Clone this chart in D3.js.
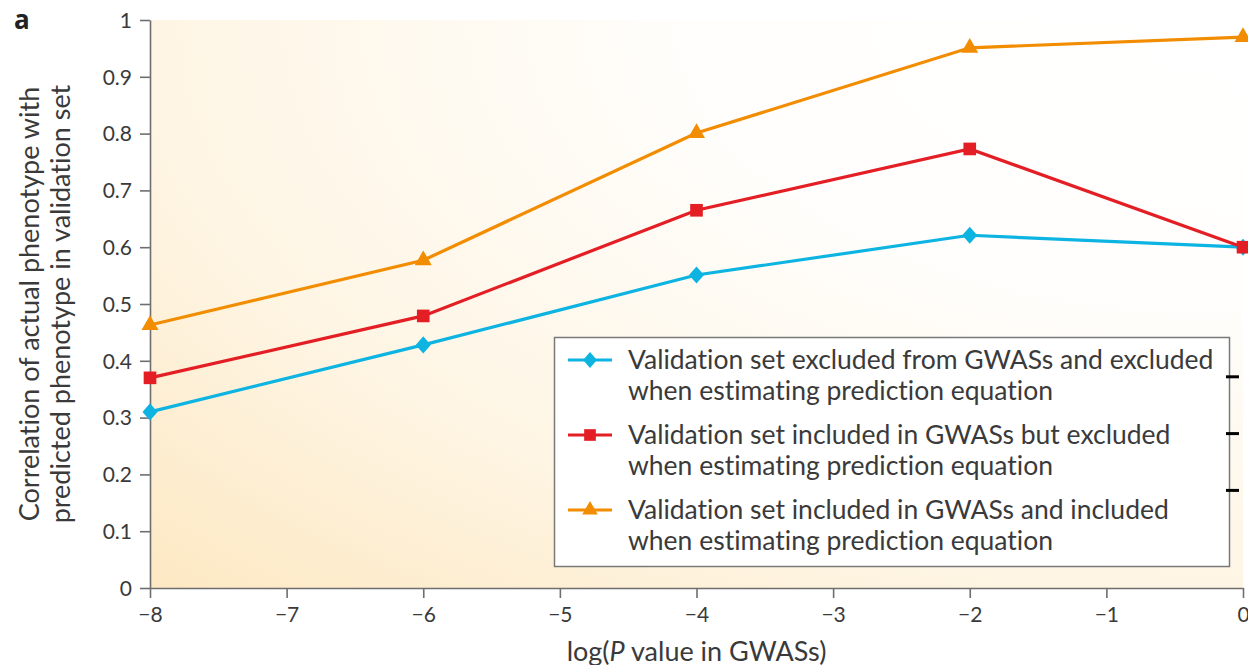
<!DOCTYPE html>
<html>
<head>
<meta charset="utf-8">
<script src="https://cdn.jsdelivr.net/npm/d3@7"></script>
<style>
  body { margin: 0; background: #fff; }
  svg { display: block; font-variant-ligatures: none; }
</style>
</head>
<body>
<div id="chart"></div>
<script>
const WIDTH = 1248;
const HEIGHT = 665;

// data
const pValues = [-8, -6, -4, -2, 0];
const excludedBoth = [0.31, 0.428, 0.551, 0.621, 0.600];
const includedGwasOnly = [0.37, 0.479, 0.665, 0.773, 0.600];
const includedBoth = [0.463, 0.577, 0.801, 0.951, 0.970];

const seriesNames = [
    ["Validation set excluded from GWASs and excluded", "when estimating prediction equation"],
    ["Validation set included in GWASs but excluded", "when estimating prediction equation"],
    ["Validation set included in GWASs and included", "when estimating prediction equation"]
];
const xTicks = [-8, -7, -6, -5, -4, -3, -2, -1, 0];
const yTicks = [0, 0.1, 0.2, 0.3, 0.4, 0.5, 0.6, 0.7, 0.8, 0.9, 1];
const yTitle = ["Correlation of actual phenotype with", "predicted phenotype in validation set"];
const sideTicks = [0.4, 0.3, 0.2]; // bits of the neighbouring panel's axis

const margin = {top: 20, right: 5, bottom: 77, left: 150};
const textColor = "#3a3a3a";
const axisColor = "#6e6e6e";
const font = "Lato, 'Open Sans', sans-serif";

// diamond a bit wider than d3's own
const diamond = {
    draw(ctx, size) {
        let h = Math.sqrt(size) * 0.62;
        let w = h * 0.88;
        ctx.moveTo(0, -h);
        ctx.lineTo(w, 0);
        ctx.lineTo(0, h);
        ctx.lineTo(-w, 0);
        ctx.closePath();
    }
};

const series = [
    {values: excludedBoth, color: "#0db4e2", symbol: diamond, size: 190},
    {values: includedGwasOnly, color: "#e31e24", symbol: d3.symbolSquare, size: 160},
    {values: includedBoth, color: "#f28c00", symbol: d3.symbolTriangle, size: 125}
];

let svg = d3.select("#chart")
    .append("svg")
    .attr("width", WIDTH)
    .attr("height", HEIGHT);

let x = d3.scaleLinear()
    .domain([-8, 0])
    .range([margin.left, WIDTH - margin.right]);
let y = d3.scaleLinear()
    .domain([0, 1])
    .range([HEIGHT - margin.bottom, margin.top]);

// background shading, white in the top right corner
let grad = svg.append("defs")
    .append("radialGradient")
    .attr("id", "bg")
    .attr("cx", 1)
    .attr("cy", 0)
    .attr("r", 1.42);
grad.append("stop").attr("offset", 0).attr("stop-color", "#ffffff");
grad.append("stop").attr("offset", 0.35).attr("stop-color", "#fffefc");
grad.append("stop").attr("offset", 0.7).attr("stop-color", "#fef5e4");
grad.append("stop").attr("offset", 1).attr("stop-color", "#fde8c2");

svg.append("rect")
    .attr("x", x(-8))
    .attr("y", y(1))
    .attr("width", x(0) - x(-8))
    .attr("height", y(0) - y(1))
    .attr("fill", "url(#bg)");

// axes
let xAxis = svg.append("g")
    .attr("transform", `translate(0,${y(0)})`)
    .call(d3.axisBottom(x).tickValues(xTicks).tickSize(10).tickPadding(9).tickSizeOuter(0));
let yAxis = svg.append("g")
    .attr("transform", `translate(${x(-8)},0)`)
    .call(d3.axisLeft(y).tickValues(yTicks).tickSize(10).tickPadding(8).tickSizeOuter(0)
        .tickFormat(d => (d === 0 || d === 1) ? d : d.toFixed(1)));

[xAxis, yAxis].forEach(a => {
    a.select(".domain").attr("stroke", axisColor).attr("stroke-width", 1.6);
    a.selectAll(".tick line").attr("stroke", axisColor).attr("stroke-width", 1.6);
    a.selectAll(".tick text")
        .style("font-family", font)
        .style("font-size", "21px")
        .attr("fill", textColor);
});
yAxis.selectAll(".tick text").attr("dy", "0.35em");

// lines and markers
let line = d3.line()
    .x((d, i) => x(pValues[i]))
    .y(d => y(d));

series.forEach(s => {
    svg.append("path")
        .datum(s.values)
        .attr("d", line)
        .attr("fill", "none")
        .attr("stroke", s.color)
        .attr("stroke-width", 3.2);
});
series.forEach(s => {
    svg.selectAll(null)
        .data(s.values)
        .enter()
        .append("path")
        .attr("transform", (d, i) => `translate(${x(pValues[i])},${y(d)})`)
        .attr("d", d3.symbol(s.symbol, s.size))
        .attr("fill", s.color);
});

// legend
let legend = svg.append("g");
legend.append("rect")
    .attr("x", 554.5)
    .attr("y", 337.5)
    .attr("width", 675)
    .attr("height", 229)
    .attr("fill", "#fff")
    .attr("stroke", "#7a7a7a")
    .attr("stroke-width", 1.5);

series.forEach((s, i) => {
    let g = legend.append("g")
        .attr("transform", `translate(590,${360 + i * 75})`);
    g.append("line")
        .attr("x1", -22).attr("x2", 22)
        .attr("stroke", s.color)
        .attr("stroke-width", 3.2);
    g.append("path")
        .attr("d", d3.symbol(s.symbol, s.size * 0.85))
        .attr("fill", s.color);
    let t = g.append("text")
        .attr("x", 38)
        .attr("y", 0)
        .attr("fill", textColor)
        .style("font-family", font)
        .style("font-size", "26.5px");
    seriesNames[i].forEach((l, j) => {
        t.append("tspan")
            .attr("x", 38)
            .attr("dy", j === 0 ? "0.35em" : 31)
            .text(l);
    });
});

// axis titles
svg.append("text")
    .attr("x", (x(-8) + x(0)) / 2)
    .attr("y", 661)
    .attr("text-anchor", "middle")
    .attr("fill", textColor)
    .style("font-family", font)
    .style("font-size", "27px")
    .html("log(<tspan font-style='italic'>P</tspan> value in GWASs)");

let yt = svg.append("text")
    .attr("transform", `translate(39,${(y(0) + y(1)) / 2}) rotate(-90)`)
    .attr("text-anchor", "middle")
    .attr("fill", textColor)
    .style("font-family", font)
    .style("font-size", "27px");
yTitle.forEach((l, j) => {
    yt.append("tspan")
        .attr("x", 0)
        .attr("dy", j === 0 ? 0 : 31)
        .text(l);
});

svg.append("text")
    .attr("x", 14)
    .attr("y", 29)
    .attr("fill", "#222")
    .style("font-family", "'Open Sans', sans-serif")
    .style("font-weight", "bold")
    .style("font-size", "26px")
    .text("a");

// right-hand dashes from the next panel
let ySide = d3.scaleLinear().domain([0, 1]).range([604, 36]);
svg.selectAll(".side")
    .data(sideTicks)
    .enter()
    .append("line")
    .attr("class", "side")
    .attr("x1", 1226).attr("x2", 1239)
    .attr("y1", d => ySide(d)).attr("y2", d => ySide(d))
    .attr("stroke", "#000")
    .attr("stroke-width", 3);
</script>
</body>
</html>
